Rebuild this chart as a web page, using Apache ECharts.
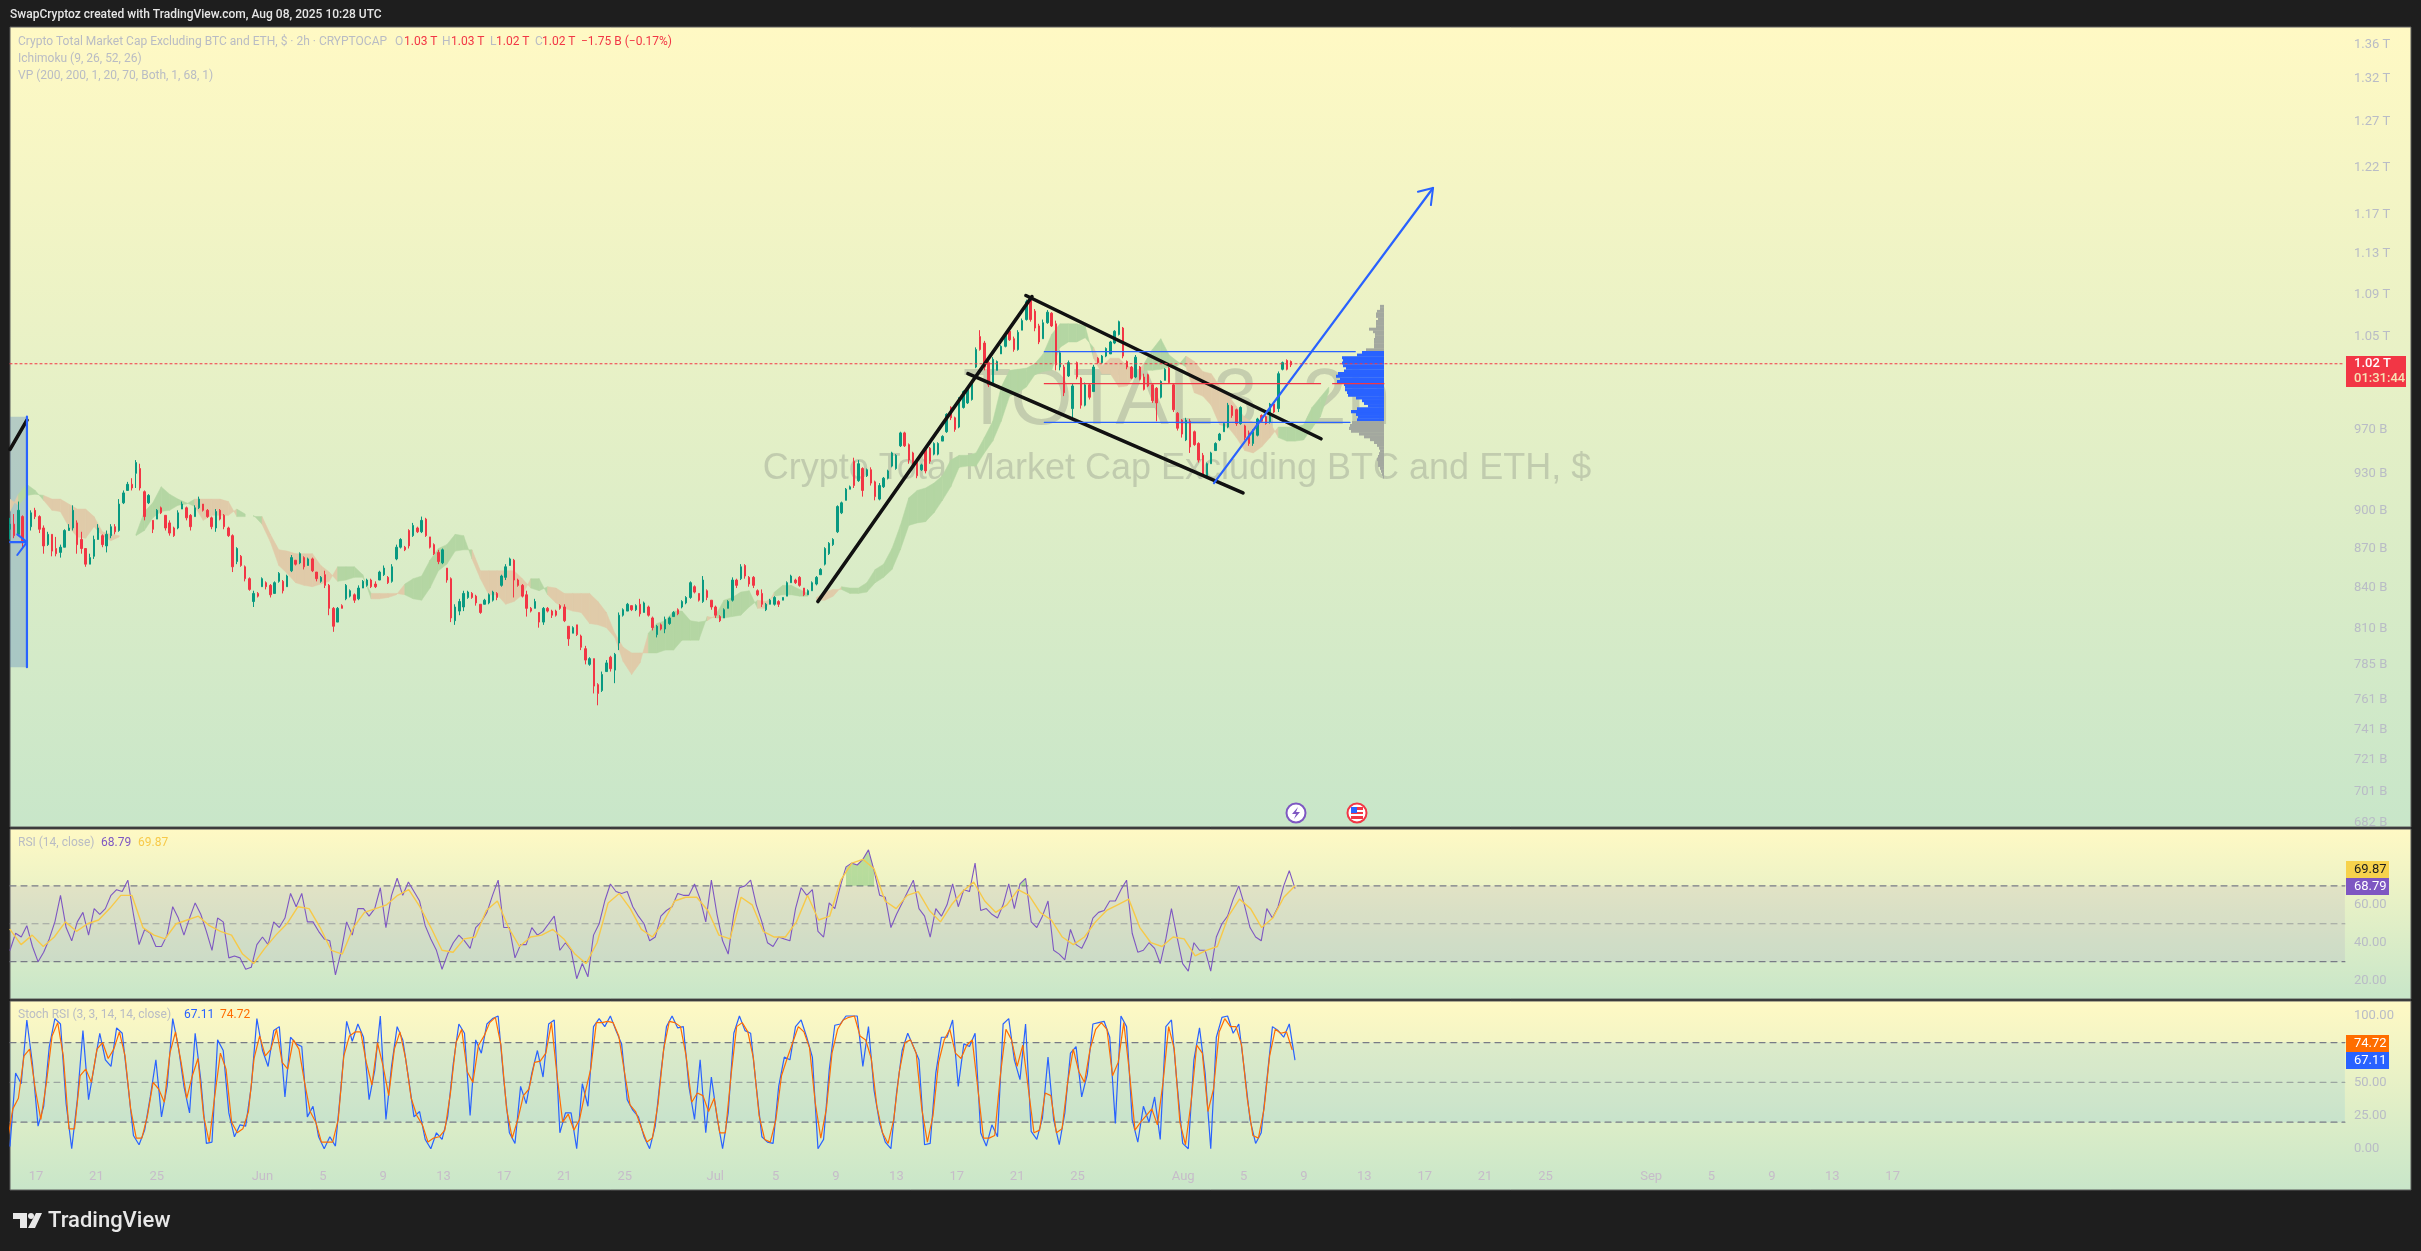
<!DOCTYPE html>
<html><head><meta charset="utf-8"><style>html,body{margin:0;background:#1e1e1e}#c{width:2421px;height:1251px}</style>
<script src="https://cdn.jsdelivr.net/npm/echarts@6/dist/echarts.min.js"></script></head><body><div id="c"></div>
<script>
// x axis unit: days after 17 May 2025
const xMin=-1.7224,xMax=157.34,paneEnd=152.96,lastDay=83.4;
const xTickDays=[0,4,8,15,19,23,27,31,35,39,45,49,53,57,61,65,69,76,80,84,88,92,96,100,107,111,115,119,123];
const xTickLabels=['17','21','25','Jun','5','9','13','17','21','25','Jul','5','9','13','17','21','25','Aug','5','9','13','17','21','25','Sep','5','9','13','17'];
const priceTicks=[1360,1320,1270,1220,1170,1130,1090,1050,967,930,900,870,840,810,785,761,741,721,701,682];
const priceTickLabels=['1.36 T','1.32 T','1.27 T','1.22 T','1.17 T','1.13 T','1.09 T','1.05 T','970 B','930 B','900 B','870 B','840 B','810 B','785 B','761 B','741 B','721 B','701 B','682 B'];
const rsiTicks=[20,40,60,80],stochTicks=[0,25,50,75,100];
const barStep=0.27824,cloudStep=0.55648;
// candles [open,high,low,close] in billions
const barsMay=[[885,894,877,889],[889,897,878,880],[881,907,880,900],[895,896,871,875],[875,893,868,887],[887,900,884,898],[900,902,893,895],[895,896,882,885],[886,888,866,872],[873,883,872,881],[881,881,864,868],[870,879,864,866],[867,873,863,871],[871,885,871,884],[884,889,884,886],[886,904,884,900],[890,892,866,873],[877,883,866,870],[870,870,856,858],[858,866,858,863],[864,880,862,877],[877,889,877,886],[880,881,871,873],[872,884,867,881],[880,889,878,887],[887,889,881,883],[884,909,883,905],[906,916,905,914],[916,923,916,921],[921,926,916,918],[930,941,918,939],[934,938,916,918],[915,916,892,895],[906,913,905,912],[892,892,882,885],[893,901,893,900],[902,903,897,898],[896,896,884,886],[890,892,880,882],[886,887,879,880],[886,900,885,898],[901,907,901,905],[902,903,892,894],[896,897,884,887],[895,904,895,902],[902,911,901,909],[905,905,899,900],[900,901,894,895],[894,895,885,887],[886,901,883,899],[900,901,892,893],[896,897,885,887],[886,887,879,880],[880,881,852,856],[860,871,858,870],[864,865,856,857],[856,857,845,847],[847,848,838,839],[830,838,826,836],[836,837,833,834],[841,848,841,847],[844,845,839,841],[842,843,833,835],[836,845,836,844],[845,852,844,851],[845,846,836,838],[841,850,841,849],[853,865,852,863],[861,861,857,858],[859,867,858,866],[863,864,854,856],[857,863,857,862],[862,863,852,853],[852,852,845,847],[845,849,844,848],[850,853,840,842],[842,843,820,825],[825,826,808,812],[815,826,815,825],[827,828,825,825],[832,843,831,842]];
const barsJun=[[834,839,833,838],[835,836,829,831],[832,842,831,840],[840,846,840,845],[842,847,841,846],[846,847,840,841],[843,845,840,841],[846,853,846,852],[850,857,849,855],[848,849,843,844],[845,858,844,856],[862,873,861,871],[871,878,870,877],[871,872,868,869],[884,885,870,872],[880,890,879,888],[886,887,882,883],[883,895,882,892],[893,894,879,880],[879,879,870,871],[873,874,865,866],[867,869,858,860],[859,870,858,869],[855,855,844,846],[847,848,815,818],[816,828,813,826],[823,832,820,830],[826,838,823,836],[833,838,832,837],[836,837,832,833],[834,835,827,829],[828,828,821,822],[828,832,828,831],[829,836,828,835],[831,838,830,837],[836,837,831,833],[842,850,841,849],[848,858,846,856],[857,863,857,862],[861,862,833,846],[846,847,841,842],[842,843,833,834],[835,838,819,825],[825,826,822,823],[825,832,825,830],[822,822,811,815],[815,826,813,825],[825,826,822,823],[823,824,818,820],[823,824,819,820],[827,828,824,825],[826,828,815,816],[812,812,798,803],[807,812,807,811],[813,813,805,806],[805,806,795,797],[796,798,785,788],[785,790,784,789],[789,789,765,770],[771,772,757,765],[767,780,766,778],[780,788,780,786],[790,791,780,782],[781,793,772,792],[800,822,795,820],[820,825,819,824],[823,829,823,828],[827,827,823,824],[824,828,823,827],[828,832,819,821],[822,830,822,829],[826,827,819,820],[818,819,809,811],[806,813,804,812],[813,814,809,810],[810,819,807,817],[814,819,813,818],[819,823,819,822],[824,825,820,821]];
const barsJul=[[826,831,825,830],[829,834,828,833],[833,845,832,844],[841,842,836,837],[836,836,830,831],[830,849,829,846],[838,839,831,833],[831,831,824,826],[826,827,818,820],[819,820,815,816],[818,825,818,824],[825,831,825,830],[831,848,830,846],[846,847,840,842],[847,858,846,856],[857,858,847,849],[848,849,841,843],[848,849,840,842],[838,839,834,835],[836,839,826,828],[824,829,823,828],[828,832,828,831],[828,834,827,833],[830,831,826,828],[831,833,831,833],[834,845,834,844],[844,850,844,849],[846,847,843,844],[848,849,841,842],[840,840,834,835],[835,839,835,838],[838,845,838,844],[843,849,842,848],[850,855,850,854],[858,871,857,870],[866,875,865,874],[873,878,872,877],[883,904,882,903],[898,907,897,906],[908,918,908,917],[917,920,917,919],[940,943,918,920],[924,941,923,938],[934,935,911,916],[928,934,927,933],[933,935,920,922],[923,924,908,911],[909,922,908,920],[919,927,918,926],[926,933,925,932],[936,948,935,947],[934,946,933,945],[953,965,952,964],[964,965,952,953],[954,955,938,941],[947,948,935,937],[940,941,926,928],[933,938,932,937],[950,952,930,932],[951,952,938,940],[946,956,945,955],[946,956,945,955],[957,962,957,961],[965,981,964,980],[986,987,975,977],[977,978,965,967],[969,995,968,993],[986,1001,985,1000],[990,1004,989,1003],[993,1010,992,1009]];
const barsAug=[[1022,1040,1021,1038],[1050,1056,1037,1038],[1044,1046,1019,1022],[1026,1028,1004,1006],[1008,1031,1007,1029],[1019,1028,1019,1027],[1034,1042,1034,1041],[1041,1052,1040,1051],[1055,1056,1046,1047],[1048,1050,1036,1038],[1038,1056,1037,1054],[1056,1067,1056,1065],[1066,1085,1065,1083],[1086,1088,1064,1066],[1074,1076,1055,1058],[1060,1062,1043,1045],[1048,1066,1048,1063],[1063,1075,1062,1073],[1072,1073,1059,1060],[1062,1065,1019,1024],[1022,1037,1019,1035],[1022,1024,996,999],[1014,1028,1013,1026],[985,1007,977,1005],[1026,1027,1011,1013],[1012,1013,985,988],[988,1008,987,1006],[1006,1007,993,995],[1000,1024,1000,1022],[1030,1031,1025,1026],[1026,1033,1025,1032],[1032,1040,1031,1039],[1034,1046,1034,1045],[1044,1056,1043,1055],[1052,1065,1051,1064],[1058,1059,1030,1032],[1027,1028,1020,1022],[1022,1023,1011,1012],[1013,1033,1012,1031],[1022,1023,1010,1011],[1013,1016,1001,1002],[1015,1016,1004,1005],[1006,1007,990,992],[1003,1004,974,990],[995,1010,994,1009],[1010,1021,1010,1020],[1021,1022,1007,1008],[1006,1007,982,984],[981,982,966,968],[975,976,960,963],[958,977,957,975],[974,976,947,952],[965,966,953,954],[955,956,939,941],[945,947,927,929],[927,939,926,938],[938,948,938,947],[949,956,949,955],[958,964,957,963],[965,973,965,972],[969,990,968,988],[987,988,977,979],[984,985,970,972],[972,987,971,986],[970,971,958,960],[964,966,953,955],[955,967,953,965],[962,977,961,976],[979,980,973,974],[978,979,971,972],[973,990,972,989],[989,990,981,982],[985,1018,982,1016],[1020,1027,1019,1026],[1028,1029,1019,1020],[1027,1028,1022,1024]];
// Ichimoku: green when spanA is above spanB
const spanA=[899,913,921,916,908,900,899,887,879,878,887,880,876,879,878,881,899,906,919,913,909,906,903,892,896,896,896,901,897,896,889,875,857,851,844,842,841,843,845,856,856,856,850,832,832,833,835,843,847,849,861,870,873,881,880,862,847,835,835,828,830,835,847,847,835,829,825,823,822,814,813,811,804,787,778,786,807,814,816,823,823,816,815,816,820,831,833,837,838,825,825,837,842,842,839,836,831,831,834,841,840,840,844,854,858,870,888,910,916,918,922,928,941,945,945,947,960,974,1004,1019,1020,1021,1025,1034,1052,1062,1062,1062,1060,1030,1016,1016,1004,1005,1016,1025,1038,1048,1033,1027,1022,999,996,988,971,969,960,949,947,952,960,969,969,969,971,986,995,1004];
const spanB=[909,904,912,913,912,909,909,905,901,901,895,883,881,880,880,880,884,894,899,900,904,905,909,909,909,909,907,895,895,895,895,881,869,868,866,866,866,857,852,845,846,848,848,836,836,836,836,835,832,831,840,853,858,868,869,869,853,853,853,853,853,847,840,838,841,840,836,836,836,836,830,822,807,797,793,793,793,793,795,795,802,802,802,819,818,818,819,820,826,831,830,834,835,835,834,834,833,837,839,839,836,836,837,844,848,854,869,888,890,891,898,908,919,935,936,936,947,957,974,996,999,1004,1015,1018,1019,1040,1045,1045,1049,1040,1023,1030,1030,1023,1020,1019,1019,1020,1022,1023,1032,1027,1018,1016,1005,997,987,977,973,973,973,960,957,957,958,968,978,1000];
// Drawings: [day, price]
const trendRise=[[51.8,830],[65.98,1088]],channelTop=[[65.58,1089],[85.13,959]],channelLow=[[61.74,1016],[79.96,914]],oldTrend=[[-1.72,950],[-0.6,975]];
const breakoutArrow=[[78.04,922],[92.55,1198]],breakoutBarbA=[[91.55,1194],[92.55,1198]],breakoutBarbB=[[92.41,1180],[92.55,1198]];
const vaHigh=[[66.8,1036],[87.4,1036]],vaLow=[[66.8,973],[87.05,973]],pocLine=[[66.8,1007],[85.1,1007]],pocRight=[[85.9,1007],[89.3,1007]];
const lastPrice=[[xMin,1025],[paneEnd,1025]];
const toolLine=[[-0.6,978],[-0.6,783]],toolArrow=[[-1.72,875],[-0.6,875]],toolBarbA=[[-1.24,881],[-0.6,875]],toolBarbB=[[-1.24,865],[-0.6,875]];
// Volume profile rows, top to bottom
const vpHigh=1080,vpRow=2.406,vaTop=1036,vaBottom=973;
const vpVolumes=[4,4,7,8,8,6,8,8,8,15,11,9,9,10,10,10,10,18,22,27,42,41,42,41,38,40,46,48,44,47,40,39,39,37,36,28,22,20,16,27,33,28,26,27,32,34,35,33,25,20,14,10,7,5,4,5,6,7,6,6,4,3,2,1];
const rsiValues=[36,45,43,49,38,30,35,42,51,65,48,41,51,56,44,58,55,58,65,68,67,73,55,39,47,45,38,38,44,59,53,44,53,61,55,46,36,53,51,32,33,32,26,27,39,43,39,51,48,53,66,59,66,51,51,46,42,41,23,35,51,44,58,58,54,58,69,48,65,74,65,72,67,62,49,42,36,26,34,40,44,41,37,48,51,56,65,73,48,48,32,39,39,48,44,46,50,54,36,40,36,21,29,22,44,50,62,71,67,66,67,59,54,50,41,43,54,57,59,66,65,65,71,63,51,73,55,41,34,55,69,70,73,60,51,40,38,43,42,41,58,
69,65,68,46,43,61,58,70,80,82,81,84,89,78,65,64,48,55,61,67,73,58,54,43,58,54,60,71,59,68,67,82,57,58,55,53,60,71,58,71,74,51,48,54,62,36,34,31,47,39,37,43,53,56,57,62,62,68,73,45,35,36,40,37,29,42,58,43,29,25,40,36,36,25,43,50,54,63,70,60,48,43,41,58,53,59,70,78,68.79];
const rsiMaValues=[47,39,44,38,43,51,46,50,52,58,65,65,48,44,42,50,52,54,49,46,44,34,29,37,44,50,59,58,48,36,34,48,56,58,60,65,68,59,48,36,35,42,43,57,62,48,38,43,44,47,42,34,29,40,61,66,58,47,43,51,62,64,64,57,44,42,64,60,46,43,43,
51,65,52,54,73,82,84,79,62,58,65,67,57,51,60,67,72,62,56,60,68,65,56,52,43,39,43,51,57,60,63,48,40,38,43,42,33,36,38,54,63,58,48,53,64,69.87];
const stochK=[2,57,49,97,64,17,32,77,98,94,34,0,37,89,37,62,87,67,62,91,87,49,10,3,14,39,67,24,47,98,77,47,27,87,52,4,5,82,74,27,9,18,17,47,98,74,62,89,92,39,84,79,77,24,32,9,0,9,2,47,96,81,94,84,37,59,100,22,62,92,82,54,24,28,7,0,12,7,24,64,94,87,25,82,72,94,98,100,52,12,4,47,34,57,74,54,94,97,12,27,27,0,49,32,92,98,92,100,89,79,37,29,24,9,0,17,57,92,100,91,92,47,22,67,12,54,24,0,27,87,100,89,87,47,9,5,4,47,69,67,92,
97,84,69,0,7,59,93,94,100,100,100,62,92,44,19,5,0,42,74,87,77,67,3,4,57,84,84,97,47,79,77,87,12,2,18,9,94,98,67,52,94,13,7,23,69,22,3,27,72,77,39,56,94,95,96,84,19,100,92,22,5,32,20,39,7,92,97,49,4,0,67,91,57,0,84,99,100,87,94,59,22,4,12,52,92,89,84,94,67.11];
const stochD=[5,30,38,70,75,45,22,50,85,95,70,15,15,55,60,50,75,80,68,75,88,70,30,8,8,25,50,45,35,72,88,65,38,55,68,25,5,40,72,60,20,12,15,28,68,85,70,75,90,65,60,82,75,50,28,20,5,5,5,22,70,85,88,88,65,48,80,62,40,75,88,68,38,25,18,5,8,9,14,42,80,90,58,50,78,85,95,99,78,30,8,22,40,45,65,66,72,95,55,20,26,14,22,42,60,95,95,96,95,85,58,33,28,16,5,8,34,75,96,95,92,70,35,42,40,28,38,12,12,55,92,95,88,68,25,7,5,22,55,68,80,
92,88,76,35,8,30,72,90,97,99,100,85,82,68,32,12,4,22,58,80,82,72,30,5,25,65,82,90,72,68,78,82,45,8,8,10,55,90,82,62,78,45,12,14,42,40,12,15,50,75,58,50,75,90,95,90,55,65,95,58,14,20,25,30,18,50,92,75,20,3,35,78,72,28,45,88,98,92,92,78,38,10,8,30,70,90,87,88,74.72];

const FONT='Roboto';const UP='#089981',DN='#F23645',BLUE='#2962FF',AXC='#b9bcc6';
const candles=[...barsMay,...barsJun,...barsJul,...barsAug].map((b,i)=>[xMin+i*barStep,b[0],b[3],b[2],b[1]]);
const stepped=(arr,shift)=>{const st=(lastDay-xMin)/(arr.length-1);return arr.map((v,i)=>[Math.min(lastDay,xMin+(i+(shift||0))*st),v]);};
const rsiPts=stepped(rsiValues);
const rsiFill=[];for(let i=0;i<rsiPts.length-1;i++){if(rsiPts[i][1]>70&&rsiPts[i+1][1]>70)rsiFill.push([rsiPts[i][0],rsiPts[i+1][0],rsiPts[i][1],rsiPts[i+1][1]]);}
const cloudData=[];for(let i=0;i<spanA.length-1;i++){if(Math.abs(spanA[i]-spanB[i])<3&&Math.abs(spanA[i+1]-spanB[i+1])<3)continue;cloudData.push([xMin+i*cloudStep,xMin+(i+1)*cloudStep,spanA[i],spanB[i],spanA[i+1],spanB[i+1]]);}
const vpData=vpVolumes.map((v,i)=>[v,vpHigh-(i+1)*vpRow,vpHigh-i*vpRow]);
function seg(data,color,width,type,xi,z){return{type:'line',data,xAxisIndex:xi||0,yAxisIndex:xi||0,symbol:'none',silent:true,z:z||6,animation:false,lineStyle:{color,width,type:type||'solid',cap:'round'}};}
const grad=()=>({type:'linear',x:0,y:0,x2:0,y2:1,colorStops:[{offset:0,color:'#FFF9C4'},{offset:1,color:'#C8E6C9'}]});
const gridBase={left:10,right:10,show:true,borderColor:'#5a5a5a',borderWidth:1};
const xBase={type:'value',min:xMin,max:xMax,splitLine:{show:false},axisLine:{show:false},axisTick:{show:false},axisLabel:{show:false}};
const yBase={position:'right',offset:-57,splitLine:{show:false},axisLine:{show:false},axisTick:{show:false}};
const lab=(custom,fmt)=>({show:true,customValues:custom,formatter:fmt,margin:0,padding:[3,0,0,0],color:AXC,fontFamily:FONT,fontSize:13,align:'left'});
const t=(text,x,y,fill,size,extra)=>({type:'text',z:30,silent:true,style:{text,x,y,fill,font:(extra&&extra.weight||'normal')+' '+size+'px '+FONT,verticalAlign:'middle',textVerticalAlign:'middle',align:'left',textAlign:'left'}});
const box=(x,y,w,h,fill)=>({type:'rect',z:29,silent:true,shape:{x,y,width:w,height:h},style:{fill}});
const LG='#b9bcc4',LS=12;
const graphics=[
 {type:'text',z:1,silent:true,style:{text:'TOTAL3, 2h',x:1177,y:402,fill:'rgba(110,115,110,0.28)',font:'80px Liberation Sans',align:'center',textAlign:'center',verticalAlign:'middle',textVerticalAlign:'middle'}},
 {type:'text',z:1,silent:true,style:{text:'Crypto Total Market Cap Excluding BTC and ETH, $',x:1177,y:469,fill:'rgba(110,115,110,0.28)',font:'36px Liberation Sans',align:'center',textAlign:'center',verticalAlign:'middle',textVerticalAlign:'middle'}},
 t('SwapCryptoz created with TradingView.com, Aug 08, 2025 10:28 UTC',10,15,'#e6e6e6',12,{weight:500}),
 t('Crypto Total Market Cap Excluding BTC and ETH, $ · 2h · CRYPTOCAP',18,42,LG,LS),
 t('O',395,42,LG,LS),t('1.03 T',404,42,DN,LS),t('H',442,42,LG,LS),t('1.03 T',451,42,DN,LS),t('L',490,42,LG,LS),t('1.02 T',496,42,DN,LS),t('C',535,42,LG,LS),t('1.02 T',542,42,DN,LS),t('−1.75 B (−0.17%)',581,42,DN,LS),
 t('Ichimoku (9, 26, 52, 26)',18,59,LG,LS),t('VP (200, 200, 1, 20, 70, Both, 1, 68, 1)',18,76,LG,LS),
 t('RSI (14, close)',18,843,LG,LS),t('68.79',101,843,'#7E57C2',LS),t('69.87',138,843,'#F7C948',LS),
 t('Stoch RSI (3, 3, 14, 14, close)',18,1015,LG,LS),t('67.11',184,1015,BLUE,LS),t('74.72',220,1015,'#FF6D00',LS),
 box(2346,356,60,31,DN),t('1.02 T',2354,364,'#ffffff',13,{weight:500}),t('01:31:44',2354,379,'#f6e3b5',13,{weight:500}),
 box(2346,861,43,17,'#F7D24C'),t('69.87',2354,870,'#1e1e1e',13),box(2346,878,43,17,'#7E57C2'),t('68.79',2354,887,'#ffffff',13),
 box(2346,1035,43,17,'#FF6D00'),t('74.72',2354,1044,'#ffffff',13),box(2346,1052,43,17,BLUE),t('67.11',2354,1061,'#ffffff',13),
 {type:'circle',z:29,silent:true,shape:{cx:1296,cy:813,r:9.5},style:{fill:'#fff',stroke:'#7E57C2',lineWidth:2}},
 {type:'polygon',z:30,silent:true,shape:{points:[[1298,807],[1292,814],[1296,814],[1294,819],[1300,812],[1296,812]]},style:{fill:'#7E57C2'}},
 {type:'circle',z:29,silent:true,shape:{cx:1357,cy:813,r:9.5},style:{fill:'#fff',stroke:'#F23645',lineWidth:2}},
 {type:'rect',z:30,silent:true,shape:{x:1351,y:807,width:12,height:12},style:{fill:'#F23645'}},
 {type:'rect',z:30,silent:true,shape:{x:1351,y:810,width:12,height:2},style:{fill:'#fff'}},{type:'rect',z:30,silent:true,shape:{x:1351,y:814,width:12,height:2},style:{fill:'#fff'}},
 {type:'rect',z:31,silent:true,shape:{x:1351,y:807,width:6,height:6},style:{fill:'#2962FF'}},
 {type:'polygon',z:30,silent:true,shape:{points:[[13,1213],[27,1213],[27,1228],[20,1228],[20,1219],[13,1219]]},style:{fill:'#e8e8e8'}},
 {type:'circle',z:30,silent:true,shape:{cx:31,cy:1216,r:3},style:{fill:'#e8e8e8'}},
 {type:'polygon',z:30,silent:true,shape:{points:[[36,1213],[42,1213],[35,1228],[28,1228]]},style:{fill:'#e8e8e8'}},
 t('TradingView',48,1221,'#e8e8e8',22,{weight:500})
];
const option={animation:false,backgroundColor:'#1e1e1e',
 grid:[Object.assign({top:27,height:800,backgroundColor:grad()},gridBase),Object.assign({top:829,height:170,backgroundColor:grad()},gridBase),Object.assign({top:1001,height:189,backgroundColor:grad()},gridBase)],
 xAxis:[Object.assign({gridIndex:0},xBase),Object.assign({gridIndex:1},xBase),
  Object.assign({gridIndex:2},xBase,{axisLabel:{show:true,inside:true,customValues:xTickDays,margin:7,color:'#c6bcc9',fontFamily:FONT,fontSize:13,formatter:v=>xTickLabels[xTickDays.indexOf(v)]}}),
  {gridIndex:0,type:'value',show:false,inverse:true,min:-1027,max:1374}],
 yAxis:[Object.assign({gridIndex:0,type:'log',min:679.5,max:1382,axisLabel:lab(priceTicks,v=>{let b=0;priceTicks.forEach((p,i)=>{if(Math.abs(p-v)<Math.abs(priceTicks[b]-v))b=i;});return priceTickLabels[b];})},yBase),
  Object.assign({gridIndex:1,type:'value',min:10.3,max:100,axisLabel:lab(rsiTicks,v=>v.toFixed(2))},yBase),
  Object.assign({gridIndex:2,type:'value',min:-31.1,max:111.3,axisLabel:lab(stochTicks,v=>v.toFixed(2))},yBase)],
 graphic:{elements:graphics},
 series:[
  {type:'custom',xAxisIndex:0,yAxisIndex:0,data:cloudData,z:3,silent:true,clip:true,encode:{x:[0,1],y:[2,3,4,5]},
   renderItem:(p,api)=>{const d=[0,1,2,3,4,5].map(k=>api.value(k));const a=api.coord([d[0],d[2]]),b=api.coord([d[0],d[3]]),c=api.coord([d[1],d[4]]),e=api.coord([d[1],d[5]]);
    return{type:'polygon',shape:{points:[a,c,e,b]},style:{fill:d[2]>=d[3]?'#b4d6a3':'#e0cba9',stroke:d[2]>=d[3]?'#b4d6a3':'#e0cba9',lineWidth:0.5}};}},
  {type:'custom',xAxisIndex:3,yAxisIndex:0,data:vpData,z:4,silent:true,encode:{x:0,y:[1,2]},
   renderItem:(p,api)=>{const v=api.value(0),lo=api.value(1),hi=api.value(2);const a=api.coord([0,hi]),b=api.coord([v,lo]);const mid=(lo+hi)/2;
    return{type:'rect',shape:{x:b[0],y:a[1],width:a[0]-b[0],height:b[1]-a[1]+0.4},style:{fill:(mid<=vaTop&&mid>=vaBottom)?BLUE:'#a3a89f'}};}},
  {type:'candlestick',xAxisIndex:0,yAxisIndex:0,data:candles,z:5,barWidth:2,silent:true,encode:{x:0,y:[1,2,3,4]},clip:true,itemStyle:{color:UP,color0:DN,borderColor:UP,borderColor0:DN,borderWidth:1}},
  seg(trendRise,'#111',3.6),seg(channelTop,'#111',3.6),seg(channelLow,'#111',3.6),seg(oldTrend,'#111',3.6),
  seg(breakoutArrow,BLUE,2.2),seg(breakoutBarbA,BLUE,2),seg(breakoutBarbB,BLUE,2),
  seg(vaHigh,BLUE,1.2),seg(vaLow,BLUE,1.2),seg(pocLine,DN,1.2),seg(pocRight,DN,1.2),
  seg(lastPrice,DN,1.2,[2,3]),
  Object.assign(seg(toolLine,BLUE,2.2),{markArea:{silent:true,itemStyle:{color:'rgba(70,120,190,0.3)'},data:[[{xAxis:xMin,yAxis:978},{xAxis:-0.6,yAxis:783}]]}}),
  seg(toolArrow,BLUE,2.2),seg(toolBarbA,BLUE,2),seg(toolBarbB,BLUE,2),
  Object.assign(seg([[xMin,70],[paneEnd,70]],'#787B86',1.2,[6,5],1,3),{markArea:{silent:true,itemStyle:{color:'rgba(126,87,194,0.1)'},data:[[{xAxis:xMin,yAxis:70},{xAxis:paneEnd,yAxis:30}]]}}),
  seg([[xMin,50],[paneEnd,50]],'rgba(120,123,134,0.6)',1.2,[6,5],1,3),seg([[xMin,30],[paneEnd,30]],'#787B86',1.2,[6,5],1,3),
  {type:'custom',xAxisIndex:1,yAxisIndex:1,data:rsiFill,z:4,silent:true,encode:{x:[0,1],y:[2,3]},
   renderItem:(p,api)=>{const x0=api.value(0),x1=api.value(1),y0=api.value(2),y1=api.value(3);
    return{type:'polygon',shape:{points:[api.coord([x0,70]),api.coord([x0,y0]),api.coord([x1,y1]),api.coord([x1,70])]},style:{fill:'rgba(76,175,80,0.35)'}};}},
  seg(rsiPts,'#7E57C2',1.1,null,1,5),
  seg(stepped(rsiMaValues),'#F7C948',1.4,null,1,6),
  Object.assign(seg([[xMin,80],[paneEnd,80]],'#787B86',1.2,[6,5],2,3),{markArea:{silent:true,itemStyle:{color:'rgba(33,150,243,0.1)'},data:[[{xAxis:xMin,yAxis:80},{xAxis:paneEnd,yAxis:20}]]}}),
  seg([[xMin,50],[paneEnd,50]],'rgba(120,123,134,0.6)',1.2,[6,5],2,3),seg([[xMin,20],[paneEnd,20]],'#787B86',1.2,[6,5],2,3),
  seg(stepped(stochK),BLUE,1.2,null,2,5),
  seg(stepped(stochD,-0.5),'#FF6D00',1.2,null,2,6)
 ]};
echarts.init(document.getElementById('c'),null,{renderer:'canvas'}).setOption(option);
</script></body></html>
